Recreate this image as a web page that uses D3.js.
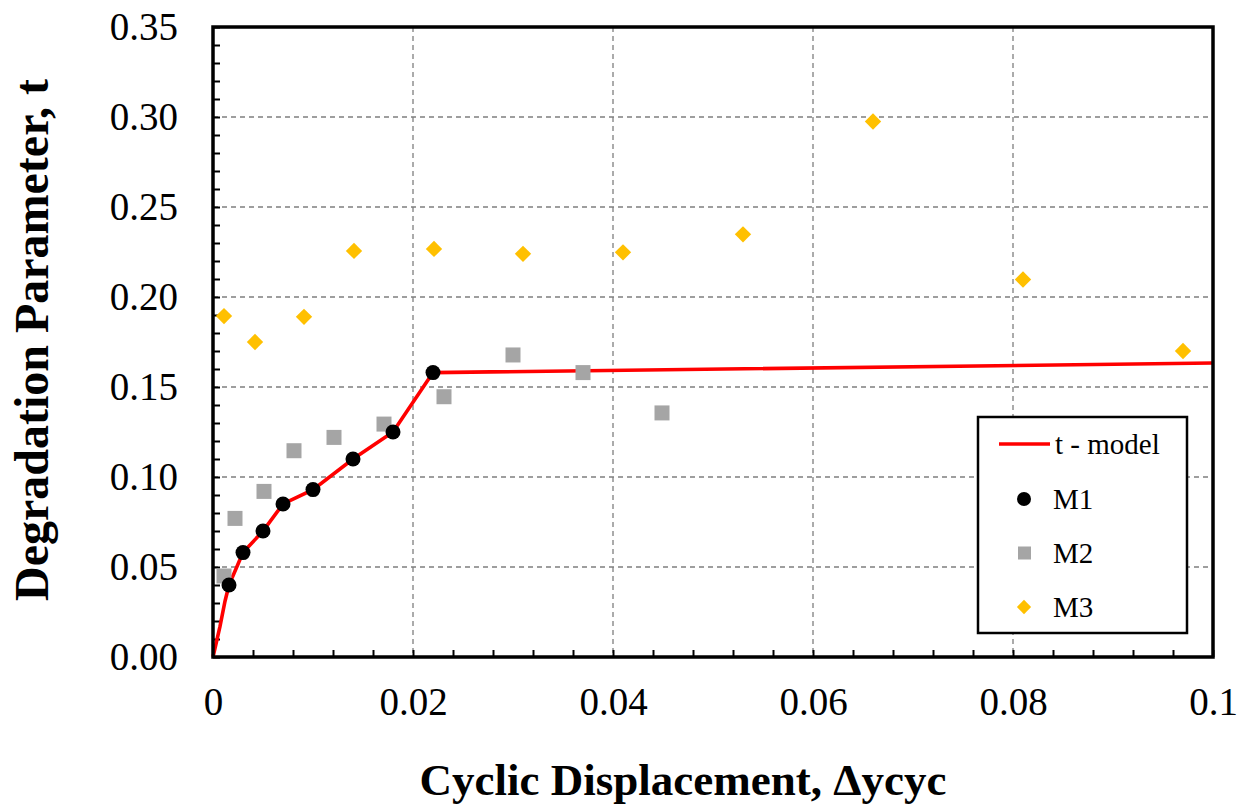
<!DOCTYPE html>
<html>
<head>
<meta charset="utf-8">
<script src="https://cdn.jsdelivr.net/npm/d3@7"></script>
<style>
  body { margin: 0; background: #fff; }
  svg text { font-family: "Liberation Serif", "Times New Roman", serif; fill: #000; }
</style>
</head>
<body>
<div id="chart"></div>
<script>
// values
var xTicks = [0, 0.02, 0.04, 0.06, 0.08, 0.1];
var xTickLabels = ["0", "0.02", "0.04", "0.06", "0.08", "0.1"];
var yTicks = [0, 0.05, 0.1, 0.15, 0.2, 0.25, 0.3, 0.35];
var yTickLabels = ["0.00", "0.05", "0.10", "0.15", "0.20", "0.25", "0.30", "0.35"];

var modelX = [0, 0.0007, 0.0012, 0.0016, 0.003, 0.005, 0.007, 0.010, 0.014, 0.018, 0.022, 0.1];
var modelY = [0, 0.017, 0.031, 0.040, 0.058, 0.070, 0.085, 0.093, 0.110, 0.125, 0.158, 0.1633];

var m1X = [0.0016, 0.003, 0.005, 0.007, 0.010, 0.014, 0.018, 0.022];
var m1Y = [0.040, 0.058, 0.070, 0.085, 0.093, 0.110, 0.125, 0.158];

var m2X = [0.0011, 0.0022, 0.0051, 0.0081, 0.0121, 0.0171, 0.0231, 0.030, 0.037, 0.0449];
var m2Y = [0.045, 0.077, 0.092, 0.1146, 0.122, 0.1294, 0.1446, 0.1678, 0.158, 0.1356];

var m3X = [0.0011, 0.0042, 0.0091, 0.0141, 0.0221, 0.031, 0.041, 0.053, 0.066, 0.081, 0.097];
var m3Y = [0.1894, 0.175, 0.189, 0.2256, 0.2267, 0.224, 0.2248, 0.2348, 0.2975, 0.2097, 0.170];

var seriesNames = ["t - model", "M1", "M2", "M3"];

var W = 1244, H = 807;
var margin = {left: 213, right: 31, top: 27, bottom: 150};
var w = W - margin.left - margin.right, h = H - margin.top - margin.bottom;

var svg = d3.select('#chart').append('svg').attr('width', W).attr('height', H);
var g = svg.append('g').attr('transform', 'translate(' + margin.left + ',' + margin.top + ')');

var x = d3.scaleLinear().domain([0, 0.1]).range([0, w]);
var y = d3.scaleLinear().domain([0, 0.35]).range([h, 0]);

// dashed grid
g.append('g').selectAll('line').data(xTicks.slice(1, -1)).enter().append('line')
  .attr('x1', function(d) { return x(d); }).attr('x2', function(d) { return x(d); })
  .attr('y1', 0).attr('y2', h)
  .attr('stroke', '#7f7f7f').attr('stroke-width', 1.3).attr('stroke-dasharray', '5,4');
g.append('g').selectAll('line').data(yTicks.slice(1, -1)).enter().append('line')
  .attr('y1', function(d) { return y(d); }).attr('y2', function(d) { return y(d); })
  .attr('x1', 0).attr('x2', w)
  .attr('stroke', '#7f7f7f').attr('stroke-width', 1.3).attr('stroke-dasharray', '5,4');

// minor inward ticks
var xMinor = d3.range(0, 0.1001, 0.004);
var yMinor = d3.range(0, 0.3501, 0.01);
g.append('g').attr('transform', 'translate(0,' + h + ')')
  .call(d3.axisBottom(x).tickValues(xMinor).tickSize(-7).tickFormat(''))
  .call(function(a) { a.select('.domain').remove(); a.selectAll('line').attr('stroke-width', 2); });
g.append('g')
  .call(d3.axisLeft(y).tickValues(yMinor).tickSize(-7).tickFormat(''))
  .call(function(a) { a.select('.domain').remove(); a.selectAll('line').attr('stroke-width', 2); });

// labelled axes
g.append('g').attr('transform', 'translate(0,' + h + ')')
  .call(d3.axisBottom(x).tickValues(xTicks).tickSize(0).tickPadding(30)
    .tickFormat(function(d, i) { return xTickLabels[i]; }))
  .call(function(a) {
    a.select('.domain').remove();
    a.selectAll('text').style('font-size', '39px').attr('font-family', null);
  });
g.append('g')
  .call(d3.axisLeft(y).tickValues(yTicks).tickSize(0).tickPadding(35)
    .tickFormat(function(d, i) { return yTickLabels[i]; }))
  .call(function(a) {
    a.select('.domain').remove();
    a.selectAll('text').style('font-size', '39px').attr('font-family', null);
  });

// model line
var line = d3.line().x(function(d) { return x(d[0]); }).y(function(d) { return y(d[1]); });
g.append('path').datum(d3.zip(modelX, modelY)).attr('d', line)
  .attr('fill', 'none').attr('stroke', '#ff0000').attr('stroke-width', 3.6);

// M2 squares
g.append('g').selectAll('rect').data(d3.zip(m2X, m2Y)).enter().append('rect')
  .attr('x', function(d) { return x(d[0]) - 7.5; }).attr('y', function(d) { return y(d[1]) - 7.5; })
  .attr('width', 15).attr('height', 15).attr('fill', '#a5a5a5');

// M1 circles
g.append('g').selectAll('circle').data(d3.zip(m1X, m1Y)).enter().append('circle')
  .attr('cx', function(d) { return x(d[0]); }).attr('cy', function(d) { return y(d[1]); })
  .attr('r', 7.5).attr('fill', '#000');

// M3 diamonds
var diamond = d3.symbol().type(d3.symbolDiamond2).size(170);
g.append('g').selectAll('path').data(d3.zip(m3X, m3Y)).enter().append('path')
  .attr('d', diamond)
  .attr('transform', function(d) { return 'translate(' + x(d[0]) + ',' + y(d[1]) + ')'; })
  .attr('fill', '#ffc000');

// frame
g.append('rect').attr('x', 0).attr('y', 0).attr('width', w).attr('height', h)
  .attr('fill', 'none').attr('stroke', '#000').attr('stroke-width', 3.5);

// legend
var lg = svg.append('g').attr('transform', 'translate(978,417)');
lg.append('rect').attr('width', 209).attr('height', 216)
  .attr('fill', '#fff').attr('stroke', '#000').attr('stroke-width', 2.5);
var rows = [27, 82, 136, 190];
lg.append('line').attr('x1', 21).attr('x2', 72).attr('y1', rows[0]).attr('y2', rows[0])
  .attr('stroke', '#ff0000').attr('stroke-width', 3.6);
lg.append('circle').attr('cx', 46).attr('cy', rows[1]).attr('r', 7).attr('fill', '#000');
lg.append('rect').attr('x', 40).attr('y', rows[2] - 6.5).attr('width', 13).attr('height', 13).attr('fill', '#a5a5a5');
lg.append('path').attr('d', d3.symbol().type(d3.symbolDiamond2).size(130))
  .attr('transform', 'translate(46,' + rows[3] + ')').attr('fill', '#ffc000');
lg.selectAll('text.lab').data(seriesNames).enter().append('text').attr('class', 'lab')
  .attr('x', function(d, i) { return i === 0 ? 77 : 75; })
  .attr('y', function(d, i) { return rows[i]; })
  .attr('dy', '0.35em').style('font-size', '29px').text(function(d) { return d; });

// axis titles
svg.append('text').attr('x', 683).attr('y', 795).attr('text-anchor', 'middle')
  .style('font-size', '45px').style('font-weight', 'bold').text('Cyclic Displacement, Δycyc');
svg.append('text').attr('transform', 'translate(48,340) rotate(-90)').attr('text-anchor', 'middle')
  .style('font-size', '48px').style('font-weight', 'bold').text('Degradation Parameter, t');
</script>
</body>
</html>
